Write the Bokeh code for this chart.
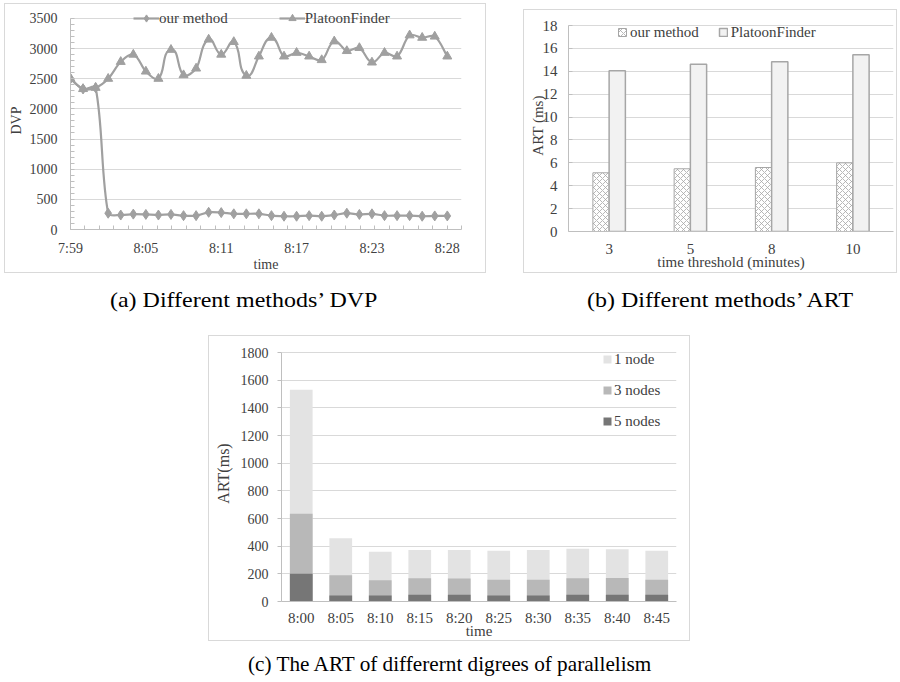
import numpy as np
from bokeh.plotting import figure
from bokeh.models import (ColumnDataSource, Legend, LegendItem, FixedTicker, Div, Spacer,
                          FactorRange, Range1d)
from bokeh.layouts import column, row
from bokeh.embed import file_html
from bokeh.resources import INLINE
from bokeh.transform import dodge

# ---------------- data ----------------
# (a) DVP over time (category positions 0..30)
a_tick_labels = ["7:59", "8:05", "8:11", "8:17", "8:23", "8:28"]
our_method = [2500, 2330, 2350, 270, 240, 255, 250, 240, 250, 230, 230, 285, 280, 260, 260,
              260, 230, 220, 220, 230, 220, 240, 270, 250, 260, 230, 230, 230, 220, 225, 225]
platoon_finder = [2500, 2330, 2350, 2500, 2780, 2900, 2620, 2500, 2980, 2560, 2670, 3150, 2900,
                  3110, 2550, 2870, 3180, 2870, 2930, 2870, 2810, 3120, 2960, 3010, 2770, 2930,
                  2870, 3220, 3180, 3200, 2870]

# (b) ART vs time threshold
thresholds = ["3", "5", "8", "10"]
art_our = [5.13, 5.48, 5.59, 6.0]
art_pf = [14.04, 14.62, 14.83, 15.44]

# (c) ART for different degrees of parallelism
c_times = ["8:00", "8:05", "8:10", "8:15", "8:20", "8:25", "8:30", "8:35", "8:40", "8:45"]
node1 = [1531, 458, 360, 372, 372, 367, 372, 382, 377, 367]
node3 = [634, 190, 154, 168, 166, 158, 158, 168, 170, 158]
node5 = [200, 43, 43, 48, 48, 43, 43, 48, 48, 48]

# ---------------- style ----------------
SERIF = "Liberation Serif"
TXT = "#404040"
GRID = "#d9d9d9"
AXIS = "#bfbfbf"
LINE = "#a0a0a0"
BOX = {"border": "1px solid #d9d9d9", "box-sizing": "border-box"}


def style_axes(p, tick_size="14px", label_size="14px"):
    for ax in (p.xaxis[0], p.yaxis[0]):
        ax.major_label_text_font = SERIF
        ax.major_label_text_font_size = tick_size
        ax.major_label_text_color = TXT
        ax.axis_label_text_font = SERIF
        ax.axis_label_text_font_size = label_size
        ax.axis_label_text_font_style = "normal"
        ax.axis_label_text_color = TXT
        ax.axis_line_color = AXIS
        ax.major_tick_line_color = None
        ax.minor_tick_line_color = None
        ax.major_tick_in = 0
        ax.major_tick_out = 0
        ax.minor_tick_in = 0
        ax.minor_tick_out = 0
    p.outline_line_color = None
    p.xgrid.visible = False
    p.ygrid.grid_line_color = GRID


def smooth(xs, ys, sx, sy, k=0.3):
    """Bezier segments through the data points (Excel-like smoothed line)."""
    X = np.asarray(xs, float) * sx
    Y = np.asarray(ys, float) * sy
    n = len(X)
    T = []
    for i in range(n):
        a, b = max(i - 1, 0), min(i + 1, n - 1)
        dx, dy = X[b] - X[a], Y[b] - Y[a]
        L = np.hypot(dx, dy) or 1.0
        T.append((dx / L, dy / L))
    out = {k_: [] for k_ in ("x0", "y0", "x1", "y1", "cx0", "cy0", "cx1", "cy1")}
    for i in range(n - 1):
        d = np.hypot(X[i + 1] - X[i], Y[i + 1] - Y[i])
        arm = d * k
        out["x0"].append(X[i] / sx); out["y0"].append(Y[i] / sy)
        out["x1"].append(X[i + 1] / sx); out["y1"].append(Y[i + 1] / sy)
        out["cx0"].append((X[i] + arm * T[i][0]) / sx)
        out["cy0"].append((Y[i] + arm * T[i][1]) / sy)
        out["cx1"].append((X[i + 1] - arm * T[i + 1][0]) / sx)
        out["cy1"].append((Y[i + 1] - arm * T[i + 1][1]) / sy)
    return out


# ---------------- (a) ----------------
A_W, A_H = 482, 270
A_L, A_R, A_T, A_B = 63, 26, 7, 41
A_TOP_EXTRA = 7            # px of frame above the 3500 gridline (room for legend)
XMAX = 31.13
fw_a = A_W - A_L - A_R
fh_a = A_H - A_T - A_B
ya_end = 3500 * fh_a / (fh_a - A_TOP_EXTRA)
pa = figure(width=A_W, height=A_H, x_range=Range1d(0, XMAX), y_range=Range1d(0, ya_end),
            title=None, output_backend="svg", toolbar_location=None,
            min_border_left=A_L, min_border_right=A_R, min_border_top=A_T, min_border_bottom=A_B)
style_axes(pa)
pa.styles = BOX
idx = list(range(len(our_method)))
label_pos = [i * 6 for i in range(len(a_tick_labels))]
pa.xaxis.ticker = FixedTicker(ticks=label_pos,
                              minor_ticks=list(np.arange(0, XMAX + 0.01, XMAX / 27)))
pa.xaxis.major_label_overrides = {p_: l for p_, l in zip(label_pos, a_tick_labels)}
pa.xaxis.minor_tick_line_color = AXIS
pa.xaxis.minor_tick_in = 4
pa.xaxis.major_label_standoff = 11
pa.xaxis.axis_label = "time"
pa.xaxis.axis_label_standoff = -2
pa.yaxis.ticker = FixedTicker(ticks=list(range(0, 3501, 500)),
                              minor_ticks=list(range(0, 3501, 100)))
pa.yaxis.bounds = (0, 3500)
pa.yaxis.minor_tick_line_color = AXIS
pa.yaxis.minor_tick_in = 4
pa.yaxis.major_label_standoff = 13
pa.yaxis.axis_label = "DVP"
pa.yaxis.axis_label_standoff = 3

sx, sy = fw_a / XMAX, fh_a / ya_end
pf_seg = smooth(idx, platoon_finder, sx, sy)
our_seg = smooth(idx, our_method, sx, sy)
r_pf_line = pa.bezier(source=ColumnDataSource(pf_seg), x0="x0", y0="y0", x1="x1", y1="y1",
                      cx0="cx0", cy0="cy0", cx1="cx1", cy1="cy1",
                      line_color=LINE, line_width=2.2)
r_pf_pts = pa.scatter(idx, platoon_finder, marker="triangle", size=9,
                      fill_color=LINE, line_color=LINE)
r_our_line = pa.bezier(source=ColumnDataSource(our_seg), x0="x0", y0="y0", x1="x1", y1="y1",
                       cx0="cx0", cy0="cy0", cx1="cx1", cy1="cy1",
                       line_color=LINE, line_width=2.2)
r_our_pts = pa.scatter(idx, our_method, marker="diamond", size=10,
                       fill_color=LINE, line_color=LINE)
leg_a = Legend(items=[LegendItem(label="our method", renderers=[r_our_line, r_our_pts]),
                      LegendItem(label="PlatoonFinder", renderers=[r_pf_line, r_pf_pts])],
               orientation="horizontal", location=(63, 202), padding=0, margin=0,
               spacing=51, glyph_width=26, glyph_height=18, label_height=18,
               label_standoff=0, label_text_font=SERIF, label_text_font_size="15px",
               label_text_color=TXT, border_line_color=None, background_fill_alpha=0)
pa.add_layout(leg_a)

# ---------------- (b) ----------------
B_W, B_H = 374, 264
B_L, B_R, B_T, B_B = 44, 5, 9, 43
B_TOP_EXTRA = 6
fh_b = B_H - B_T - B_B
yb_end = 18 * fh_b / (fh_b - B_TOP_EXTRA)
pb = figure(width=B_W, height=B_H, x_range=FactorRange(*thresholds, range_padding=0),
            y_range=Range1d(0, yb_end), title=None, output_backend="svg",
            toolbar_location=None,
            min_border_left=B_L, min_border_right=B_R, min_border_top=B_T, min_border_bottom=B_B)
style_axes(pb, tick_size="15px", label_size="15px")
pb.styles = BOX
pb.yaxis.ticker = FixedTicker(ticks=list(range(0, 19, 2)))
pb.yaxis.bounds = (0, 18)
pb.yaxis.major_tick_line_color = AXIS
pb.yaxis.major_tick_in = 4
pb.yaxis.major_label_standoff = 11
pb.yaxis.axis_label = "ART (ms)"
pb.yaxis.axis_label_standoff = -6
pb.xaxis.major_label_standoff = 12
pb.xaxis.axis_label = "time threshold (minutes)"
pb.xaxis.axis_label_standoff = -3
src_b = ColumnDataSource(dict(thr=thresholds, our=art_our, pf=art_pf))
r_b_our = pb.vbar(x=dodge("thr", -0.1, range=pb.x_range), top="our", width=0.2, source=src_b,
                  fill_color="white", line_color="#a6a6a6", line_width=1,
                  hatch_pattern="diagonal_cross", hatch_color="#a6a6a6", hatch_scale=6,
                  hatch_weight=0.8)
r_b_pf = pb.vbar(x=dodge("thr", 0.1, range=pb.x_range), top="pf", width=0.2, source=src_b,
                 fill_color="#f2f2f2", line_color="#a6a6a6", line_width=1.5)
leg_b = Legend(items=[LegendItem(label="our method", renderers=[r_b_our]),
                      LegendItem(label="PlatoonFinder", renderers=[r_b_pf])],
               orientation="horizontal", location=(49, 190), padding=0, margin=0,
               spacing=19, glyph_width=10, glyph_height=10, label_height=18,
               label_standoff=3, label_text_font=SERIF, label_text_font_size="15px",
               label_text_color=TXT, border_line_color=None, background_fill_alpha=0)
pb.add_layout(leg_b)

# ---------------- (c) ----------------
C_W, C_H = 482, 306
C_L, C_R, C_T, C_B = 72, 15, 9, 41
C_TOP_EXTRA = 7
fh_c = C_H - C_T - C_B
yc_end = 1800 * fh_c / (fh_c - C_TOP_EXTRA)
pc = figure(width=C_W, height=C_H, x_range=FactorRange(*c_times, range_padding=0),
            y_range=Range1d(0, yc_end), title=None, output_backend="svg",
            toolbar_location=None,
            min_border_left=C_L, min_border_right=C_R, min_border_top=C_T, min_border_bottom=C_B)
style_axes(pc, tick_size="15px", label_size="16px")
pc.styles = BOX
pc.yaxis.major_label_text_font_size = "14px"
pc.yaxis.ticker = FixedTicker(ticks=list(range(0, 1801, 200)))
pc.yaxis.bounds = (0, 1800)
pc.yaxis.major_tick_line_color = AXIS
pc.yaxis.major_tick_out = 4
pc.yaxis.major_label_standoff = 9
pc.yaxis.axis_label = "ART(ms)"
pc.yaxis.axis_label_standoff = 6
pc.xaxis.major_label_standoff = 8
pc.xaxis.axis_label = "time"
pc.xaxis.axis_label_text_font_size = "15px"
pc.xaxis.axis_label_standoff = -6
src_c = ColumnDataSource(dict(t=c_times, n1=node1, n3=node3, n5=node5))
r1 = pc.vbar(x="t", top="n1", width=0.575, source=src_c, fill_color="#e3e3e3", line_color=None)
r3 = pc.vbar(x="t", top="n3", width=0.575, source=src_c, fill_color="#b8b8b8", line_color=None)
r5 = pc.vbar(x="t", top="n5", width=0.575, source=src_c, fill_color="#767676", line_color=None)
leg_c = Legend(items=[LegendItem(label="1 node", renderers=[r1]),
                      LegendItem(label="3 nodes", renderers=[r3]),
                      LegendItem(label="5 nodes", renderers=[r5])],
               location=(321, 170), padding=0, margin=0, spacing=11,
               glyph_width=10, glyph_height=10, label_height=20, label_standoff=2,
               label_text_font=SERIF, label_text_font_size="15px", label_text_color=TXT,
               border_line_color=None, background_fill_alpha=0)
pc.add_layout(leg_c)


# ---------------- captions & layout ----------------
def caption(text, w, h, lh, size, stretch=1.0, pad=0):
    html = ('<div style="font-family:\'Liberation Serif\',serif;color:#000;'
            f'text-align:center;line-height:{lh}px;padding-top:{pad}px;width:{w}px;'
            'white-space:nowrap;">'
            f'<span style="display:inline-block;font-size:{size}px;'
            f'transform:scaleX({stretch});">' + text + '</span></div>')
    return Div(text=html, width=w, height=h, margin=0)


cap_a = caption("(a) Different methods’ DVP", 472, 62, 54, 22, 1.09)
cap_b = caption("(b) Different methods’ ART", 344, 62, 54, 22, 1.09)
cap_c = caption("(c) The ART of differernt digrees of parallelism", 900, 40, 26, 21, 1.01, pad=10)

top = row(Spacer(width=4, height=A_H), pa, Spacer(width=37, height=A_H),
          column(Spacer(width=B_W, height=6), pb, spacing=0), spacing=0)
caps = row(Spacer(width=8, height=62), cap_a, Spacer(width=68, height=62), cap_b, spacing=0)
mid = row(Spacer(width=208, height=C_H), pc, spacing=0)
layout = column(Spacer(width=10, height=3), top, caps, mid, cap_c, spacing=0)

open("out.html", "w").write(file_html(layout, INLINE))
